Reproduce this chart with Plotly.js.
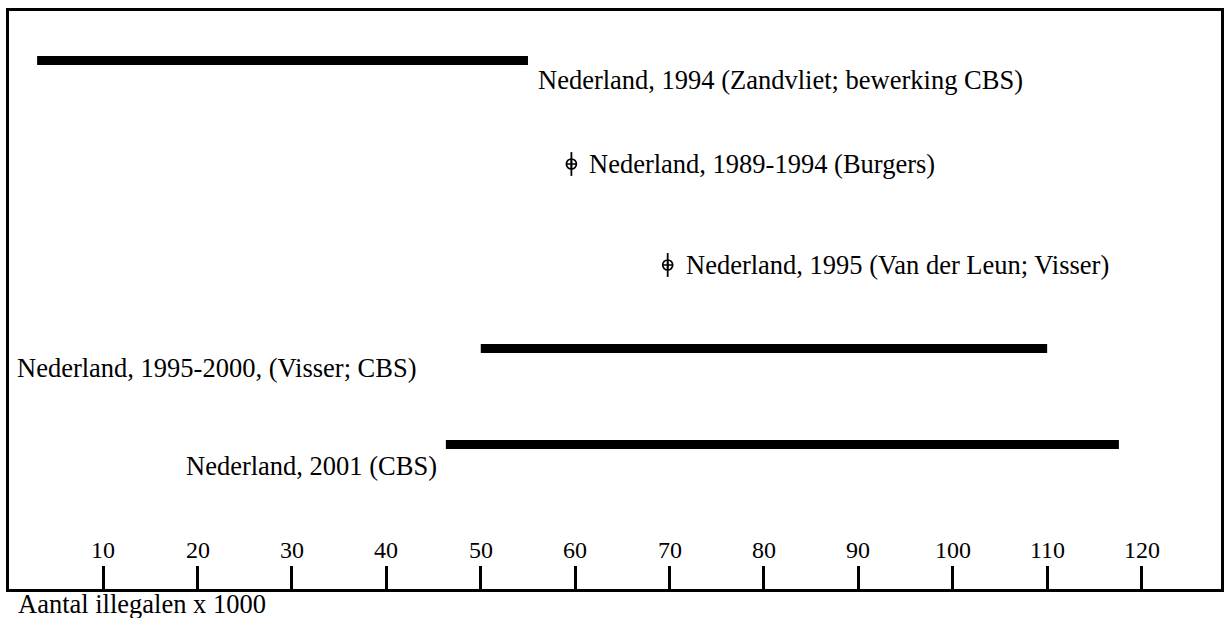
<!DOCTYPE html>
<html>
<head>
<meta charset="utf-8">
<script src="https://cdn.plot.ly/plotly-3.0.1.min.js"></script>
<style>html,body{margin:0;padding:0;background:#fff;}</style>
</head>
<body>
<div id="chart" style="width:1231px;height:618px;"></div>
<script>
// ---- data (x 1000 illegalen) ----
const rangeLabels = [
  "Nederland, 1994 (Zandvliet; bewerking CBS)",
  "Nederland, 1995-2000, (Visser; CBS)",
  "Nederland, 2001 (CBS)"
];
const rangeLow  = [3, 50, 46.3];
const rangeHigh = [55, 110, 117.6];

const pointLabels = [
  "Nederland, 1989-1994 (Burgers)",
  "Nederland, 1995 (Van der Leun; Visser)"
];
const pointValues = [59.6, 69.8];

const tickValues = [10, 20, 30, 40, 50, 60, 70, 80, 90, 100, 110, 120];
const tickLabels = ["10","20","30","40","50","60","70","80","90","100","110","120"];
const axisTitle = "Aantal illegalen x 1000";

// ---- layout constants (pixels, not data) ----
const W = 1231, H = 618, PLOT_H = 589;
const L = 6, R = 1224.3;
const PX0 = 8.8, PX_PER = 9.442;
const toX = p => (p - PX0) / PX_PER;
const rangeRows = [60.5, 348.5, 444.5];
const pointRows = [164, 265];
const FONT = "Liberation Serif";

const traces = [];
rangeLow.forEach((lo, i) => {
  traces.push({
    type: "scatter", mode: "lines",
    x: [lo, rangeHigh[i]], y: [rangeRows[i], rangeRows[i]],
    line: {color: "#000", width: 9}, hoverinfo: "skip", showlegend: false
  });
});
traces.push({
  type: "scatter", mode: "markers",
  x: pointValues, y: pointRows,
  marker: {symbol: "line-ns-open", size: 17, color: "#000", line: {color: "#000", width: 1.8}},
  hoverinfo: "skip", showlegend: false, cliponaxis: false
});
traces.push({
  type: "scatter", mode: "markers",
  x: pointValues, y: pointRows,
  marker: {symbol: "circle-cross-open", size: 10, color: "#000", line: {color: "#000", width: 1.7}},
  hoverinfo: "skip", showlegend: false, cliponaxis: false
});

const annotations = [];
const lblFont = {family: FONT, size: 26.5, color: "#000"};
annotations.push({x: rangeHigh[0], y: 80, xref: "x", yref: "y", text: rangeLabels[0],
  showarrow: false, xanchor: "left", yanchor: "middle", xshift: 8, font: lblFont});
annotations.push({x: toX(15), y: 368, xref: "x", yref: "y", text: rangeLabels[1],
  showarrow: false, xanchor: "left", yanchor: "middle", font: lblFont});
annotations.push({x: rangeLow[2], y: 466, xref: "x", yref: "y", text: rangeLabels[2],
  showarrow: false, xanchor: "right", yanchor: "middle", xshift: -7, font: lblFont});
pointValues.forEach((v, i) => {
  annotations.push({x: v, y: pointRows[i], xref: "x", yref: "y", text: pointLabels[i],
    showarrow: false, xanchor: "left", yanchor: "middle", xshift: 16, font: lblFont});
});
tickValues.forEach((v, i) => {
  annotations.push({x: v, y: 550, xref: "x", yref: "y", text: tickLabels[i],
    showarrow: false, xanchor: "center", yanchor: "middle",
    font: {family: FONT, size: 24, color: "#000"}});
});
const px = v => (v - L) / (R - L), py = v => (PLOT_H - v) / PLOT_H;
annotations.push({x: px(16), y: py(604), xref: "paper", yref: "paper",
  text: axisTitle, showarrow: false, xanchor: "left", yanchor: "middle", font: lblFont});

const lineStyle = {color: "#000", width: 3};
const shapes = [
  {type: "line", xref: "paper", yref: "paper", x0: px(7.5), x1: px(7.5), y0: py(8), y1: py(592), line: lineStyle},
  {type: "line", xref: "paper", yref: "paper", x0: px(6), x1: px(1224.3), y0: py(9.5), y1: py(9.5), line: lineStyle},
  {type: "line", xref: "paper", yref: "paper", x0: px(1222.8), x1: px(1222.8), y0: py(8), y1: py(592), line: lineStyle}
];

const layout = {
  width: W, height: H,
  margin: {l: L, r: W - R, t: 0, b: H - PLOT_H, pad: 0},
  paper_bgcolor: "#fff", plot_bgcolor: "#fff",
  showlegend: false,
  font: {family: FONT},
  xaxis: {
    range: [toX(L), toX(R)], showgrid: false, zeroline: false,
    showline: true, linecolor: "#000", linewidth: 3,
    ticks: "inside", ticklen: 23, tickwidth: 3, tickcolor: "#000",
    tickmode: "array", tickvals: tickValues, showticklabels: false,
    fixedrange: true
  },
  yaxis: {
    range: [PLOT_H, 0], showgrid: false, zeroline: false, showline: false,
    showticklabels: false, ticks: "", fixedrange: true
  },
  annotations: annotations,
  shapes: shapes
};

Plotly.newPlot("chart", traces, layout, {staticPlot: true, displayModeBar: false});
</script>
</body>
</html>
